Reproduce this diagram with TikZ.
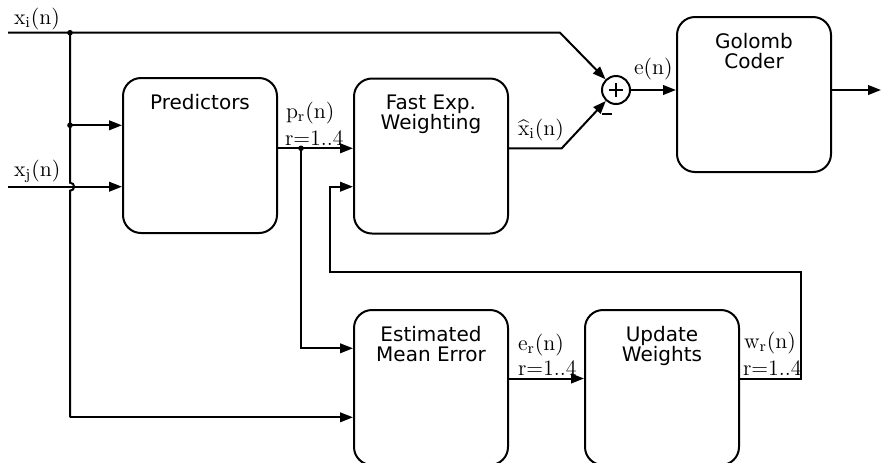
\documentclass[tikz,border=0pt]{standalone}
\usepackage{fontspec}
\newfontfamily\boxfont{DejaVu Sans}
\usetikzlibrary{arrows.meta,calc}
\begin{document}
\begin{tikzpicture}[x=0.5pt,y=-0.5pt,line width=1pt,
  blk/.style={draw,rounded corners=9pt,minimum width=77pt,minimum height=77.5pt,inner sep=0},
  blktext/.style={anchor=north,inner sep=0,align=center,font=\boxfont\fontsize{10}{10}\selectfont},
  lbl/.style={anchor=base west,inner sep=0,font=\fontsize{11}{12}\selectfont},
  arr/.style={-{Triangle[length=6.5pt,width=4.8pt]}},
  jdot/.style={circle,fill,inner sep=0,minimum size=2.8pt}]
\clip (0,0) rectangle (881,462);
% blocks
\node[blk] (pred) at (200,155.5) {};
\node[blktext] (predT) at ([yshift=-8pt]pred.north) {Predictors};
\node[blk] (fast) at (431,156) {};
\node[blktext] (fastT) at ([yshift=-8pt]fast.north) {Fast Exp.\\Weighting};
\node[blk] (gol) at (754,94.5) {};
\node[blktext] (golT) at ([yshift=-8pt]gol.north) {Golomb\\Coder};
\node[blk] (est) at (431,387.5) {};
\node[blktext] (estT) at ([yshift=-8pt]est.north) {Estimated\\Mean Error};
\node[blk] (upd) at (662,387.5) {};
\node[blktext] (updT) at ([yshift=-8pt]upd.north) {Update\\Weights};
\node[circle,draw,minimum size=14pt,inner sep=0] (sum) at (616,90) {};
\draw[line width=0.9pt] ([xshift=-3.3pt]sum.center) -- ([xshift=3.3pt]sum.center);
\draw[line width=0.9pt] ([yshift=-3.3pt]sum.center) -- ([yshift=3.3pt]sum.center);
\draw[line width=0.9pt] (602,114) -- (612,114);
% coordinates
\coordinate (xiL) at (8,32.7);
\coordinate (xiC) at (560,32.7);
\coordinate (bus) at (70,32.7);
\coordinate (busM) at (70,125.3);
\coordinate (xjL) at (8,186.7);
\coordinate (busB) at (70,417.3);
\coordinate (pOut) at (301,148.3);
\coordinate (pDown) at (301,348.3);
\coordinate (xhC) at (561.7,148.3);
\coordinate (out) at (881,90);
\coordinate (erY) at (600,378.5);
\coordinate (fbR) at (800.7,378.5);
\coordinate (fbT) at (800.7,271.7);
\coordinate (fbL) at (330,271.7);
\coordinate (fbI) at (330,186.7);
% connectors
\draw[arr] (xiL) -- (xiC) -- (sum);
\draw (bus) -- (70,182.7) .. controls (75.5,182.7) and (75.5,190.7) .. (70,190.7) -- (busB);
\draw[arr] (busB) -- (est.west |- busB);
\draw[arr] (busM) -- (pred.west |- busM);
\draw[arr] (xjL) -- (pred.west |- xjL);
\draw[arr] (pred.east |- pOut) -- (fast.west |- pOut);
\draw[arr] (pOut) -- (pDown) -- (est.west |- pDown);
\draw[arr] (fast.east |- xhC) -- (xhC) -- (sum);
\draw[arr] (sum) -- (gol.west |- sum);
\draw[arr] (gol.east |- out) -- (out);
\draw[arr] (est.east |- erY) -- (upd.west |- erY);
\draw[arr] (upd.east |- fbR) -- (fbR) -- (fbT) -- (fbL) -- (fbI) -- (fast.west |- fbI);
\node[jdot] (d1) at (bus) {};
\node[jdot] (d2) at (busM) {};
\node[jdot] (d3) at (pOut) {};
% labels
\node[lbl] (lxi) at (13,24) {$\mathrm{x_i(n)}$};
\node[lbl] (lxj) at (13,176) {$\mathrm{x_j(n)}$};
\node[lbl] (lpr) at (285,118) {$\mathrm{p_r(n)}$};
\node[lbl] (lpr2) at (284,145.5) {r=1..4};
\node[lbl] (lxh) at (517,135) {$\widehat{\mathrm{x}}_\mathrm{i}\mathrm{(n)}$};
\node[lbl] (len) at (633,74) {$\mathrm{e(n)}$};
\node[lbl] (ler) at (517,350) {$\mathrm{e_r(n)}$};
\node[lbl] (ler2) at (517,375.5) {r=1..4};
\node[lbl] (lwr) at (743,348) {$\mathrm{w_r(n)}$};
\node[lbl] (lwr2) at (742,375.5) {r=1..4};
\end{tikzpicture}
\end{document}
